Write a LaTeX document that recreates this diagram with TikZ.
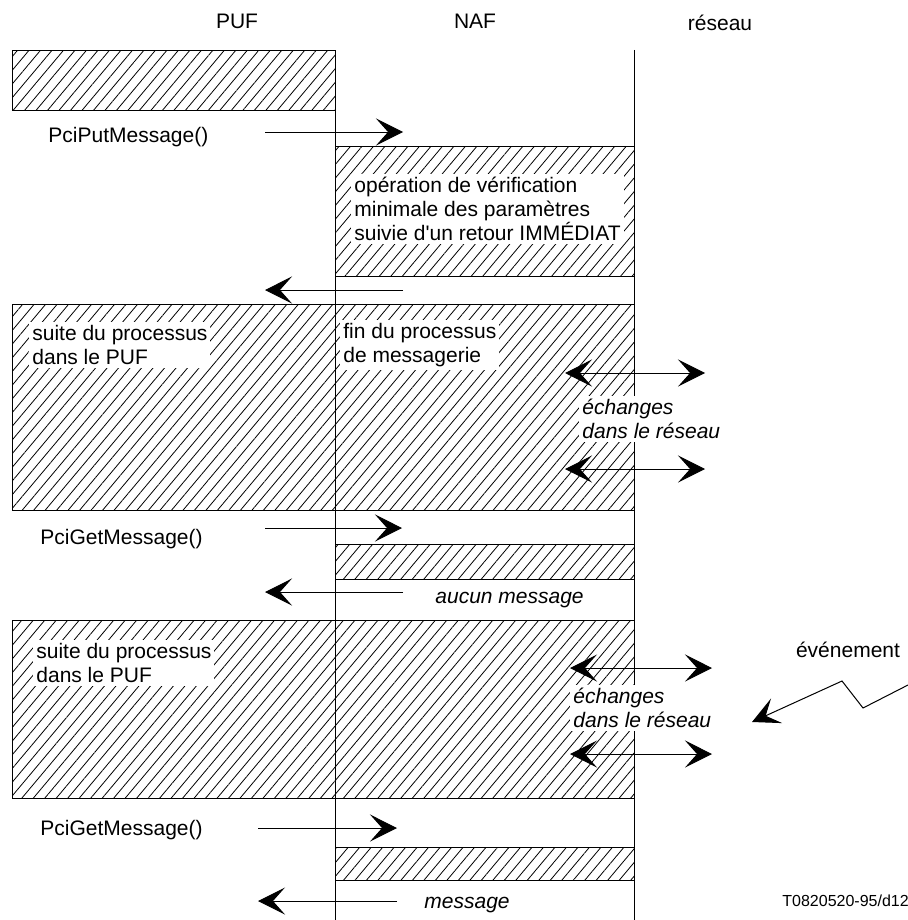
\documentclass[tikz,border=0pt]{standalone}
\usepackage{fontspec}
\setmainfont{Liberation Sans}
\usetikzlibrary{arrows.meta,patterns.meta}

\begin{document}
\begin{tikzpicture}[x=0.5pt,y=-0.5pt,
  hatchbox/.style={draw,line width=0.5pt,pattern={Lines[angle=50,distance=4.4pt,line width=0.4pt]}},
  lbl/.style={font=\fontsize{10.5}{12}\selectfont,inner sep=0pt},
  note/.style={lbl,align=left,fill=white,inner sep=1.5pt,anchor=north west},
  msg/.style={line width=0.5pt,-{Stealth[length=13.5pt,width=13.5pt,inset=6pt]}},
  xchg/.style={line width=0.5pt,{Stealth[length=13.5pt,width=13.5pt,inset=6pt]}-{Stealth[length=13.5pt,width=13.5pt,inset=6pt]}}]
  \useasboundingbox (0,0) rectangle (908,920);

  % Column titles
  \node[lbl,anchor=base] (puf) at (237,29) {PUF};
  \node[lbl,anchor=base] (naf) at (475,29) {NAF};
  \node[lbl,anchor=base] (reseau) at (720,31) {réseau};

  % Activity boxes
  \draw[hatchbox] (12,51) rectangle (335,111);
  \draw[hatchbox] (335,146) rectangle (634,276);
  \draw[hatchbox] (12,304) rectangle (634,510);
  \draw[hatchbox] (335,544) rectangle (634,579);
  \draw[hatchbox] (12,620) rectangle (634,798);
  \draw[hatchbox] (335,847) rectangle (634,880);

  % Lifelines
  \draw[line width=0.5pt] (335,111) -- (335,920);
  \draw[line width=0.5pt] (634,50) -- (634,920);

  % Texts in the boxes
  \node[note] (verif) at (351,174) {opération de vérification\\minimale des paramètres\\suivie d\textquotesingle un retour IMMÉDIAT};
  \node[note] (suite1) at (29,322) {suite du processus\\dans le PUF};
  \node[note] (fin) at (340,320) {fin du processus\\de messagerie};
  \node[note,font=\fontsize{10.5}{12}\selectfont\itshape] (ech1) at (579,396) {échanges\\dans le réseau};
  \node[note] (suite2) at (33,640) {suite du processus\\dans le PUF};
  \node[note,font=\fontsize{10.5}{12}\selectfont\itshape] (ech2) at (570,685) {échanges\\dans le réseau};

  % Calls between PUF and NAF
  \node[lbl,anchor=base west] (put) at (48,142) {PciPutMessage()};
  \coordinate (put-a) at (265,132);
  \coordinate (put-b) at (403,132);
  \draw[msg] (put-a) -- (put-b);
  \coordinate (ret1-a) at (403,290);
  \coordinate (ret1-b) at (265,290);
  \draw[msg] (ret1-a) -- (ret1-b);

  \node[lbl,anchor=base west] (get1) at (40,544) {PciGetMessage()};
  \coordinate (get1-a) at (265,528);
  \coordinate (get1-b) at (402,528);
  \draw[msg] (get1-a) -- (get1-b);
  \coordinate (ret2-a) at (403,592);
  \coordinate (ret2-b) at (265,592);
  \draw[msg] (ret2-a) -- (ret2-b);
  \node[lbl,anchor=base west,font=\fontsize{10.5}{12}\selectfont\itshape] (aucun) at (435,603) {aucun message};

  \node[lbl,anchor=base west] (get2) at (40,835) {PciGetMessage()};
  \coordinate (get2-a) at (258,828);
  \coordinate (get2-b) at (397,828);
  \draw[msg] (get2-a) -- (get2-b);
  \coordinate (ret3-a) at (397,901);
  \coordinate (ret3-b) at (258,901);
  \draw[msg] (ret3-a) -- (ret3-b);
  \node[lbl,anchor=base west,font=\fontsize{10.5}{12}\selectfont\itshape] (msgtxt) at (424,908) {message};

  % Exchanges with the network
  \coordinate (x1-a) at (565,373);
  \coordinate (x1-b) at (705,373);
  \draw[xchg] (x1-a) -- (x1-b);
  \coordinate (x2-a) at (565,469);
  \coordinate (x2-b) at (705,469);
  \draw[xchg] (x2-a) -- (x2-b);
  \coordinate (x3-a) at (570,668);
  \coordinate (x3-b) at (712,668);
  \draw[xchg] (x3-a) -- (x3-b);
  \coordinate (x4-a) at (570,754);
  \coordinate (x4-b) at (712,754);
  \draw[xchg] (x4-a) -- (x4-b);

  % Event from the network
  \node[lbl,anchor=base] (event) at (848,657) {événement};
  \coordinate (ev-a) at (908,685);
  \coordinate (ev-b) at (863,708);
  \coordinate (ev-c) at (842,681);
  \coordinate (ev-d) at (752,722);
  \draw[msg] (ev-a) -- (ev-b) -- (ev-c) -- (ev-d);

  % Figure reference
  \node[anchor=base west,inner sep=0pt,font=\fontsize{8}{10}\selectfont] (ref) at (782,906) {T0820520-95/d12};
\end{tikzpicture}
\end{document}
